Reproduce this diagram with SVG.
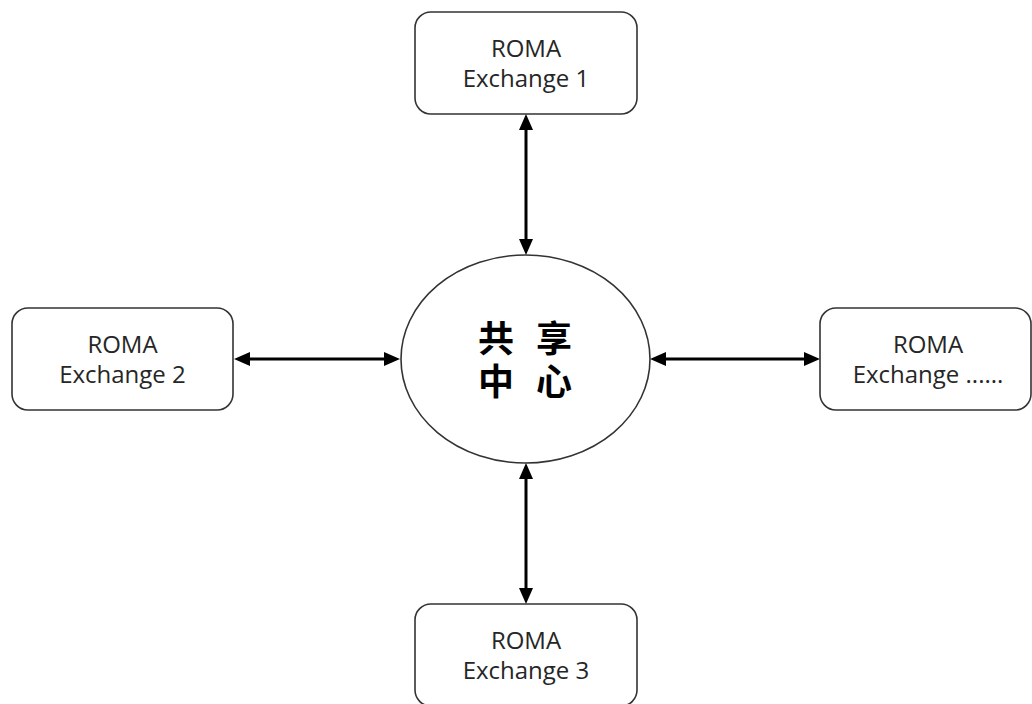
<svg xmlns="http://www.w3.org/2000/svg" width="1032" height="704" viewBox="0 0 1032 704">
<style>
.box{fill:#fff;stroke:#333;stroke-width:1.6}
.lbl{font-family:"Open Sans","Noto Sans",sans-serif;font-size:24px;fill:#262626;text-anchor:middle}
.cn{font-family:"Noto Sans CJK SC",sans-serif;font-size:36px;font-weight:bold;fill:#000;text-anchor:middle;word-spacing:14px}
.conn{stroke:#000;stroke-width:3;fill:none;marker-start:url(#ah);marker-end:url(#ah)}
</style>
<defs>
<marker id="ah" markerUnits="userSpaceOnUse" markerWidth="16" markerHeight="14" refX="6" refY="7" orient="auto-start-reverse">
<path d="M0,0 L16,7 L0,14 z" fill="#000"/>
</marker>
</defs>
<rect width="1032" height="704" fill="#fff"/>
<g id="connectors">
<line class="conn" x1="526" y1="124" x2="526" y2="245"/>
<line class="conn" x1="244" y1="359" x2="390" y2="359"/>
<line class="conn" x1="660" y1="359" x2="810" y2="359"/>
<line class="conn" x1="526" y1="473" x2="526" y2="594"/>
</g>
<g id="center">
<ellipse class="box" cx="525.5" cy="359" rx="124.5" ry="104"/>
<text class="cn"><tspan x="525" y="352">共 享</tspan><tspan x="525" y="395">中 心</tspan></text>
</g>
<g id="ex1">
<rect class="box" x="415" y="12" width="222" height="102" rx="16"/>
<text class="lbl" x="526" y="57">ROMA</text>
<text class="lbl" x="526" y="87">Exchange 1</text>
</g>
<g id="ex2">
<rect class="box" x="12" y="308" width="221" height="102" rx="16"/>
<text class="lbl" x="122.5" y="353">ROMA</text>
<text class="lbl" x="122.5" y="383">Exchange 2</text>
</g>
<g id="exn">
<rect class="box" x="820" y="308" width="211" height="102" rx="16"/>
<text class="lbl" x="928" y="353">ROMA</text>
<text class="lbl" x="928" y="383">Exchange ......</text>
</g>
<g id="ex3">
<rect class="box" x="415" y="604" width="222" height="102" rx="16"/>
<text class="lbl" x="526" y="649">ROMA</text>
<text class="lbl" x="526" y="679">Exchange 3</text>
</g>
</svg>
